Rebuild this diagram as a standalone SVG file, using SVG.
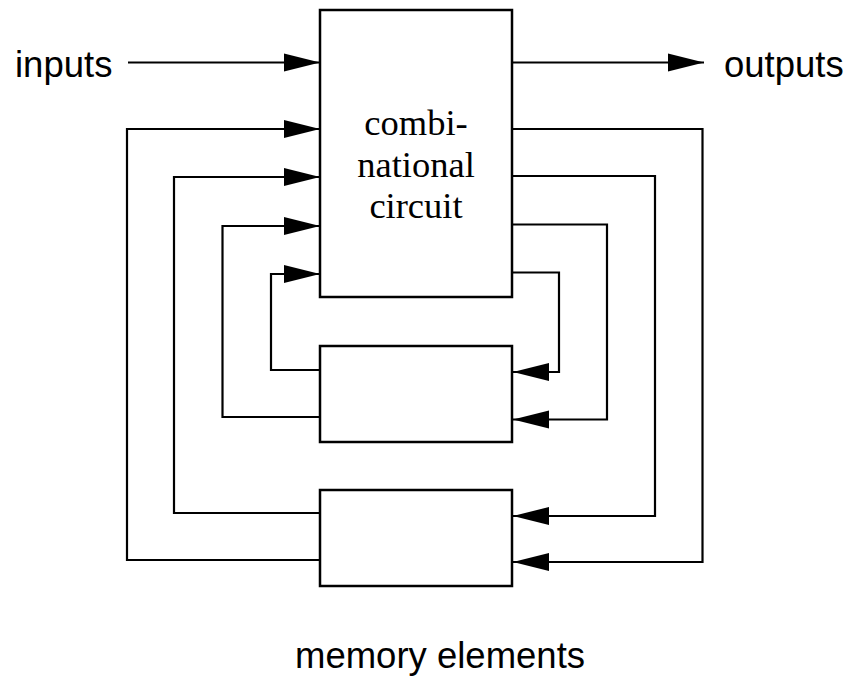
<svg xmlns="http://www.w3.org/2000/svg" width="852" height="680" viewBox="0 0 852 680">
<style>
.box{fill:#fff;stroke:#000;stroke-width:2.5}
.wire{fill:none;stroke:#000;stroke-width:2.2}
.sans{font-family:"Liberation Sans",Arial,sans-serif;font-size:36.5px;fill:#000}
.serif{font-family:"Liberation Serif","Times New Roman",serif;font-size:36.5px;fill:#000;text-anchor:middle}
</style>
<defs>
<marker id="ah" markerUnits="userSpaceOnUse" markerWidth="37" markerHeight="19" refX="36" refY="9" orient="auto" overflow="visible">
<path d="M0,0 L36,9 L0,18 Z" fill="#000"/>
</marker>
</defs>
<g id="combinational-circuit">
<rect class="box" x="320" y="10" width="192" height="287"/>
<text class="serif" x="416" y="135">combi-</text>
<text class="serif" x="416" y="177">national</text>
<text class="serif" x="416" y="218">circuit</text>
</g>
<g id="memory-element-1">
<rect class="box" x="320" y="346" width="192" height="96"/>
</g>
<g id="memory-element-2">
<rect class="box" x="320" y="490" width="192" height="96"/>
</g>
<g id="labels">
<text class="sans" x="15" y="77">inputs</text>
<text class="sans" x="724" y="77">outputs</text>
<text class="sans" x="295" y="668">memory elements</text>
</g>
<g id="connectors">
<path class="wire" marker-end="url(#ah)" d="M128,62.5 H320"/>
<path class="wire" marker-end="url(#ah)" d="M512,62.5 H704"/>
<path class="wire" marker-end="url(#ah)" d="M320,560 H127 V129 H320"/>
<path class="wire" marker-end="url(#ah)" d="M320,513 H174 V177 H320"/>
<path class="wire" marker-end="url(#ah)" d="M320,417 H222.5 V226 H320"/>
<path class="wire" marker-end="url(#ah)" d="M320,370 H271 V274 H320"/>
<path class="wire" marker-end="url(#ah)" d="M512,129 H702.5 V562 H513"/>
<path class="wire" marker-end="url(#ah)" d="M512,176 H655 V516 H513"/>
<path class="wire" marker-end="url(#ah)" d="M512,224.5 H607 V419.5 H513"/>
<path class="wire" marker-end="url(#ah)" d="M512,272.5 H559 V372 H513"/>
</g>
</svg>
